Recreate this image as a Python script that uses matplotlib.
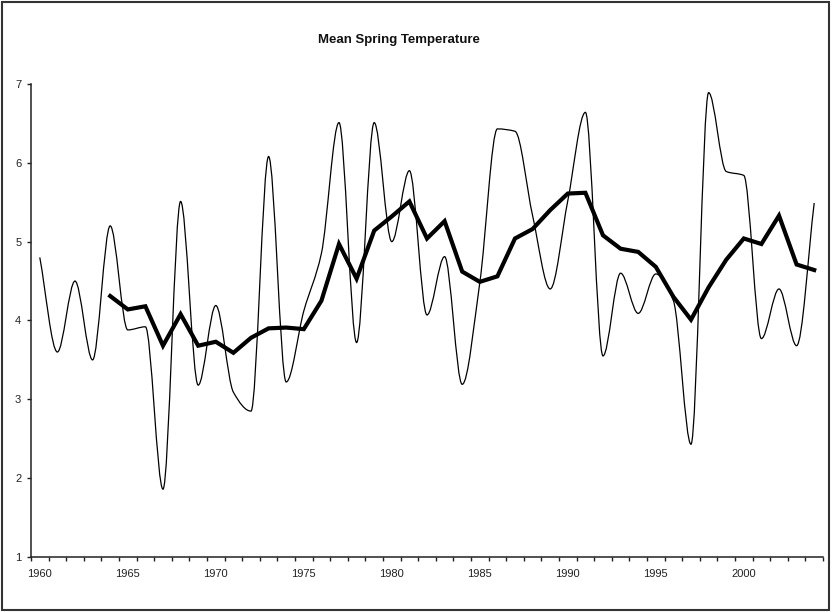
import numpy as np
import matplotlib
matplotlib.use("Agg")
import matplotlib.pyplot as plt
from matplotlib.path import Path
from matplotlib.patches import PathPatch, Rectangle

plt.rcParams["font.family"] = ["Liberation Sans", "DejaVu Sans"]

# Annual values
years = np.arange(1960, 2005)
spring_temp = [4.80, 3.60, 4.50, 3.50, 5.20, 3.88, 3.92, 1.86, 5.51, 3.18,
               4.19, 3.09, 2.85, 6.08, 3.22, 4.12, 4.85, 6.51, 3.72, 6.51,
               5.00, 5.90, 4.07, 4.81, 3.19, 4.48, 6.43, 6.40, 5.33, 4.40,
               5.52, 6.64, 3.55, 4.60, 4.09, 4.59, 4.25, 2.43, 6.89, 5.89,
               5.84, 3.77, 4.40, 3.68, 5.49]

# 5-year moving average line (starts 1964)
ma_years = np.arange(1964, 2005)
ma_temp = [4.31, 4.14, 4.18, 3.68, 4.08, 3.68, 3.73, 3.59, 3.78, 3.90,
           3.91, 3.89, 4.25, 4.97, 4.53, 5.14, 5.32, 5.51, 5.04, 5.26,
           4.62, 4.49, 4.56, 5.04, 5.16, 5.40, 5.61, 5.62, 5.08, 4.91,
           4.87, 4.68, 4.30, 4.01, 4.42, 4.77, 5.04, 4.97, 5.33, 4.71,
           4.64]

x_labels = [1960, 1965, 1970, 1975, 1980, 1985, 1990, 1995, 2000]


def smooth_path(xs, ys):
    # smoothed line as cubic Bezier segments; flat tangents at turning points
    xs = np.asarray(xs, float)
    ys = np.asarray(ys, float)
    d = np.diff(ys) / np.diff(xs)
    m = np.zeros_like(ys)
    for i in range(1, len(ys) - 1):
        if d[i - 1] * d[i] > 0:
            m[i] = 2.0 / (1.0 / d[i - 1] + 1.0 / d[i])
    m[0], m[-1] = d[0], d[-1]
    verts = [(xs[0], ys[0])]
    codes = [Path.MOVETO]
    for i in range(len(xs) - 1):
        h = xs[i + 1] - xs[i]
        verts += [(xs[i] + h / 3, ys[i] + m[i] * h / 3),
                  (xs[i + 1] - h / 3, ys[i + 1] - m[i + 1] * h / 3),
                  (xs[i + 1], ys[i + 1])]
        codes += [Path.CURVE4] * 3
    return Path(verts, codes)


fig = plt.figure(figsize=(8.33, 6.12), dpi=100)
ax = fig.add_axes([0.0372, 0.0899, 0.9508, 0.7729])

ax.add_patch(PathPatch(smooth_path(years, spring_temp), facecolor="none",
                       edgecolor="black", lw=0.9, zorder=2))
ax.plot(ma_years, ma_temp, color="black", lw=3.0, solid_joinstyle="miter", zorder=3)

ax.set_xlim(1959.5, 2004.5)
ax.set_ylim(1, 7)

for s in ["top", "right"]:
    ax.spines[s].set_visible(False)
for s in ["left", "bottom"]:
    ax.spines[s].set_color("#222222")
    ax.spines[s].set_linewidth(1.1)

ax.set_xticks(np.arange(1959.5, 2005, 1.0))
ax.set_xticklabels([])
ax.set_xticks(x_labels, minor=True)
ax.set_xticklabels([str(y) for y in x_labels], minor=True)
ax.tick_params(axis="x", which="major", direction="out", length=3, width=1, color="#222222")
ax.tick_params(axis="x", which="minor", length=0, pad=9, labelsize=8, labelcolor="#222222")

ax.set_yticks(range(1, 8))
ax.tick_params(axis="y", direction="out", length=3, width=1, color="#222222",
               pad=4, labelsize=8, labelcolor="#222222")

fig.text(398.5 / 833, 1 - 40 / 612, "Mean Spring Temperature", ha="center",
         va="center", fontsize=9.5, fontweight="bold", color="#111111")

fig.patches.append(Rectangle((0.003, 0.004), 0.992, 0.992, transform=fig.transFigure,
                             fill=False, edgecolor="#333333", lw=1.5))

fig.savefig("out.png", dpi=100)
